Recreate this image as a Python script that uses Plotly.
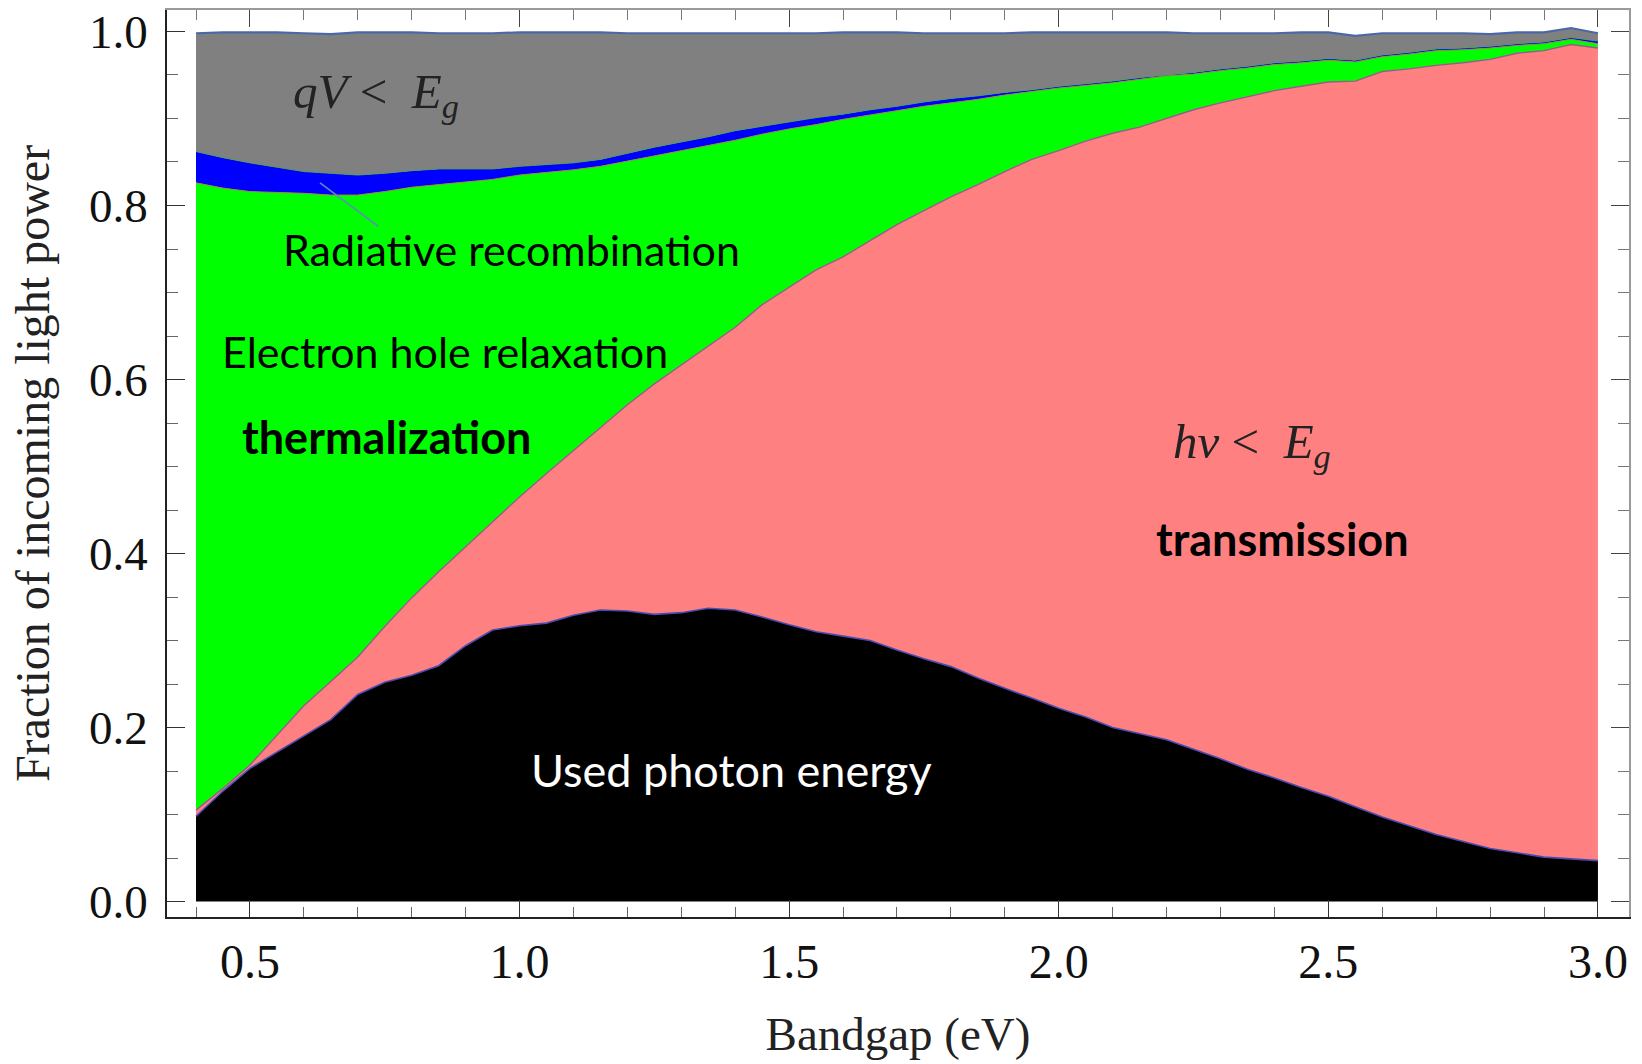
import plotly.graph_objects as go

# Bandgap grid (eV)
bandgap_ev = [0.40, 0.45, 0.50, 0.55, 0.60, 0.65, 0.70, 0.75, 0.80, 0.85,
              0.90, 0.95, 1.00, 1.05, 1.10, 1.15, 1.20, 1.25, 1.30, 1.35,
              1.40, 1.45, 1.50, 1.55, 1.60, 1.65, 1.70, 1.75, 1.80, 1.85,
              1.90, 1.95, 2.00, 2.05, 2.10, 2.15, 2.20, 2.25, 2.30, 2.35,
              2.40, 2.45, 2.50, 2.55, 2.60, 2.65, 2.70, 2.75, 2.80, 2.85,
              2.90, 2.95, 3.00]

# Cumulative fraction of incoming light power at the top of each loss band
used_top = [0.098, 0.127, 0.153, 0.172, 0.190, 0.209, 0.238, 0.252, 0.260, 0.271,
            0.294, 0.312, 0.317, 0.320, 0.329, 0.335, 0.334, 0.330, 0.332, 0.337,
            0.335, 0.327, 0.318, 0.310, 0.305, 0.300, 0.289, 0.279, 0.270, 0.257,
            0.245, 0.234, 0.222, 0.212, 0.200, 0.193, 0.186, 0.175, 0.164, 0.152,
            0.142, 0.131, 0.121, 0.109, 0.097, 0.087, 0.077, 0.069, 0.061, 0.056,
            0.051, 0.049, 0.047]

transmission_top = [0.105, 0.130, 0.157, 0.191, 0.225, 0.253, 0.281, 0.316, 0.349, 0.379,
                    0.408, 0.437, 0.465, 0.492, 0.518, 0.545, 0.571, 0.595, 0.617, 0.638,
                    0.660, 0.686, 0.706, 0.726, 0.741, 0.760, 0.778, 0.794, 0.810, 0.824,
                    0.839, 0.853, 0.863, 0.874, 0.883, 0.890, 0.900, 0.910, 0.918, 0.925,
                    0.932, 0.937, 0.942, 0.943, 0.954, 0.957, 0.961, 0.964, 0.968, 0.975,
                    0.978, 0.985, 0.981]

thermalization_top = [0.826, 0.820, 0.816, 0.815, 0.814, 0.812, 0.812, 0.816, 0.821, 0.824,
                      0.827, 0.830, 0.835, 0.838, 0.841, 0.845, 0.851, 0.857, 0.863, 0.869,
                      0.875, 0.882, 0.888, 0.893, 0.899, 0.904, 0.909, 0.914, 0.918, 0.922,
                      0.927, 0.931, 0.935, 0.938, 0.941, 0.945, 0.949, 0.951, 0.955, 0.958,
                      0.962, 0.964, 0.967, 0.965, 0.971, 0.974, 0.978, 0.979, 0.981, 0.984,
                      0.986, 0.991, 0.986]

radiative_top = [0.862, 0.855, 0.849, 0.844, 0.839, 0.837, 0.835, 0.837, 0.840, 0.842,
                 0.842, 0.842, 0.845, 0.847, 0.849, 0.853, 0.860, 0.867, 0.873, 0.879,
                 0.886, 0.891, 0.896, 0.901, 0.905, 0.910, 0.914, 0.919, 0.923, 0.926,
                 0.930, 0.933, 0.937, 0.940, 0.943, 0.947, 0.950, 0.953, 0.957, 0.960,
                 0.964, 0.966, 0.969, 0.967, 0.973, 0.976, 0.980, 0.981, 0.983, 0.986,
                 0.988, 0.993, 0.989]

total_top = [0.998, 0.999, 0.999, 0.999, 0.998, 0.997, 0.999, 0.999, 0.999, 0.998,
             0.998, 0.998, 0.999, 0.999, 0.999, 0.999, 0.998, 0.998, 0.998, 0.998,
             0.998, 0.998, 0.998, 0.998, 0.999, 0.999, 0.999, 0.998, 0.998, 0.998,
             0.998, 0.999, 0.999, 0.999, 0.999, 0.999, 0.999, 0.998, 0.998, 0.998,
             0.998, 0.999, 0.999, 0.995, 0.998, 0.998, 0.998, 0.998, 0.997, 0.999,
             0.999, 1.004, 0.998]

# (name, boundary, fill colour, edge colour, edge width)
bands = [
    ("Used photon energy", used_top, "#000000", "#4A4AB0", 1.6),
    ("Transmission", transmission_top, "#FF8080", "#9A5A8C", 1.4),
    ("Thermalization", thermalization_top, "#00FF00", "#A08A3A", 1.0),
    ("Radiative recombination", radiative_top, "#0000FF", "#4C9A5A", 1.0),
    ("qV < Eg", total_top, "#808080", "#4A68A8", 2.2),
]

fig = go.Figure()
for i, (name, top, fill_col, edge_col, edge_w) in enumerate(bands):
    fig.add_trace(go.Scatter(
        x=bandgap_ev, y=top, name=name, mode="lines",
        line=dict(color=edge_col, width=edge_w),
        fill="tozeroy" if i == 0 else "tonexty",
        fillcolor=fill_col, hoverinfo="skip", showlegend=False,
    ))

# empty trace so that the mirrored top/right frame axes exist
fig.add_trace(go.Scatter(x=[], y=[], xaxis="x2", yaxis="y2", showlegend=False))

X_RANGE = [0.3462, 3.0576]
Y_RANGE = [-0.0178, 1.0247]
SERIF = "Liberation Serif"
SANS = "Lato"

fig.update_layout(
    width=1642, height=1064,
    margin=dict(l=167, r=13, t=10, b=147, autoexpand=False),
    plot_bgcolor="white", paper_bgcolor="white",
    showlegend=False,
    xaxis=dict(
        range=X_RANGE, showgrid=False, zeroline=False,
        showline=True, linecolor="#222222", linewidth=1.5, mirror=False,
        ticks="inside", ticklen=17, tickwidth=1.3, tickcolor="#333333",
        tick0=0, dtick=0.5, tickformat=".1f",
        minor=dict(dtick=0.1, tick0=0, ticks="inside", ticklen=10,
                   tickwidth=1, tickcolor="#666666", showgrid=False),
        tickfont=dict(family=SERIF, size=48, color="#111111"),
        ticklabelstandoff=2,
        title=dict(text="Bandgap (eV)", font=dict(family=SERIF, size=47, color="#222222"),
                   standoff=30),
        automargin=False,
    ),
    yaxis=dict(
        range=Y_RANGE, showgrid=False, zeroline=False,
        showline=True, linecolor="#222222", linewidth=1.5, mirror=False,
        ticks="inside", ticklen=18, tickwidth=1.3, tickcolor="#333333",
        tick0=0, dtick=0.2, tickformat=".1f",
        minor=dict(dtick=0.05, tick0=0, ticks="inside", ticklen=11,
                   tickwidth=1, tickcolor="#666666", showgrid=False),
        tickfont=dict(family=SERIF, size=47, color="#111111"),
        ticklabelstandoff=8,
        title=dict(text="Fraction of incoming light power",
                   font=dict(family=SERIF, size=48, color="#222222"), standoff=24),
        automargin=False,
    ),
    xaxis2=dict(
        overlaying="x", side="top", anchor="y2", matches="x",
        showgrid=False, zeroline=False, showticklabels=False,
        showline=True, linecolor="#9A9A9A", linewidth=1.5,
        ticks="inside", ticklen=17, tickwidth=1.3, tickcolor="#444444",
        tick0=0, dtick=0.5,
        minor=dict(dtick=0.1, tick0=0, ticks="inside", ticklen=10,
                   tickwidth=1, tickcolor="#777777", showgrid=False),
    ),
    yaxis2=dict(
        overlaying="y", side="right", anchor="x2", matches="y",
        showgrid=False, zeroline=False, showticklabels=False,
        showline=True, linecolor="#9A9A9A", linewidth=1.5,
        ticks="inside", ticklen=18, tickwidth=1.3, tickcolor="#444444",
        tick0=0, dtick=0.2,
        minor=dict(dtick=0.05, tick0=0, ticks="inside", ticklen=11,
                   tickwidth=1, tickcolor="#777777", showgrid=False),
    ),
)

# pointer from the radiative band to its label
fig.add_shape(type="line", xref="x", yref="y", x0=0.630, y0=0.826, x1=0.738, y1=0.776,
              line=dict(color="#5B8CC0", width=1.6))

labels = [
    ("<i>qV</i> &lt;&nbsp; <i>E</i><sub><i>g</i></sub>", 0.576, 0.928, SERIF, 49, "#222222"),
    ("Radiative recombination", 0.557, 0.749, SANS, 43, "#000000"),
    ("Electron hole relaxation", 0.444, 0.632, SANS, 43, "#000000"),
    ("<b>thermalization</b>", 0.482, 0.534, SANS, 45, "#000000"),
    ("<i>hν</i> &lt;&nbsp; <i>E</i><sub><i>g</i></sub>", 2.208, 0.525, SERIF, 49, "#222222"),
    ("<b>transmission</b>", 2.176, 0.417, SANS, 45, "#000000"),
    ("Used photon energy", 1.017, 0.151, SANS, 45, "#FFFFFF"),
]
for text, x, y, family, size, color in labels:
    fig.add_annotation(text=text, x=x, y=y, xref="x", yref="y",
                       xanchor="left", yanchor="middle", showarrow=False,
                       font=dict(family=family, size=size, color=color))

fig.write_html("out.html")
